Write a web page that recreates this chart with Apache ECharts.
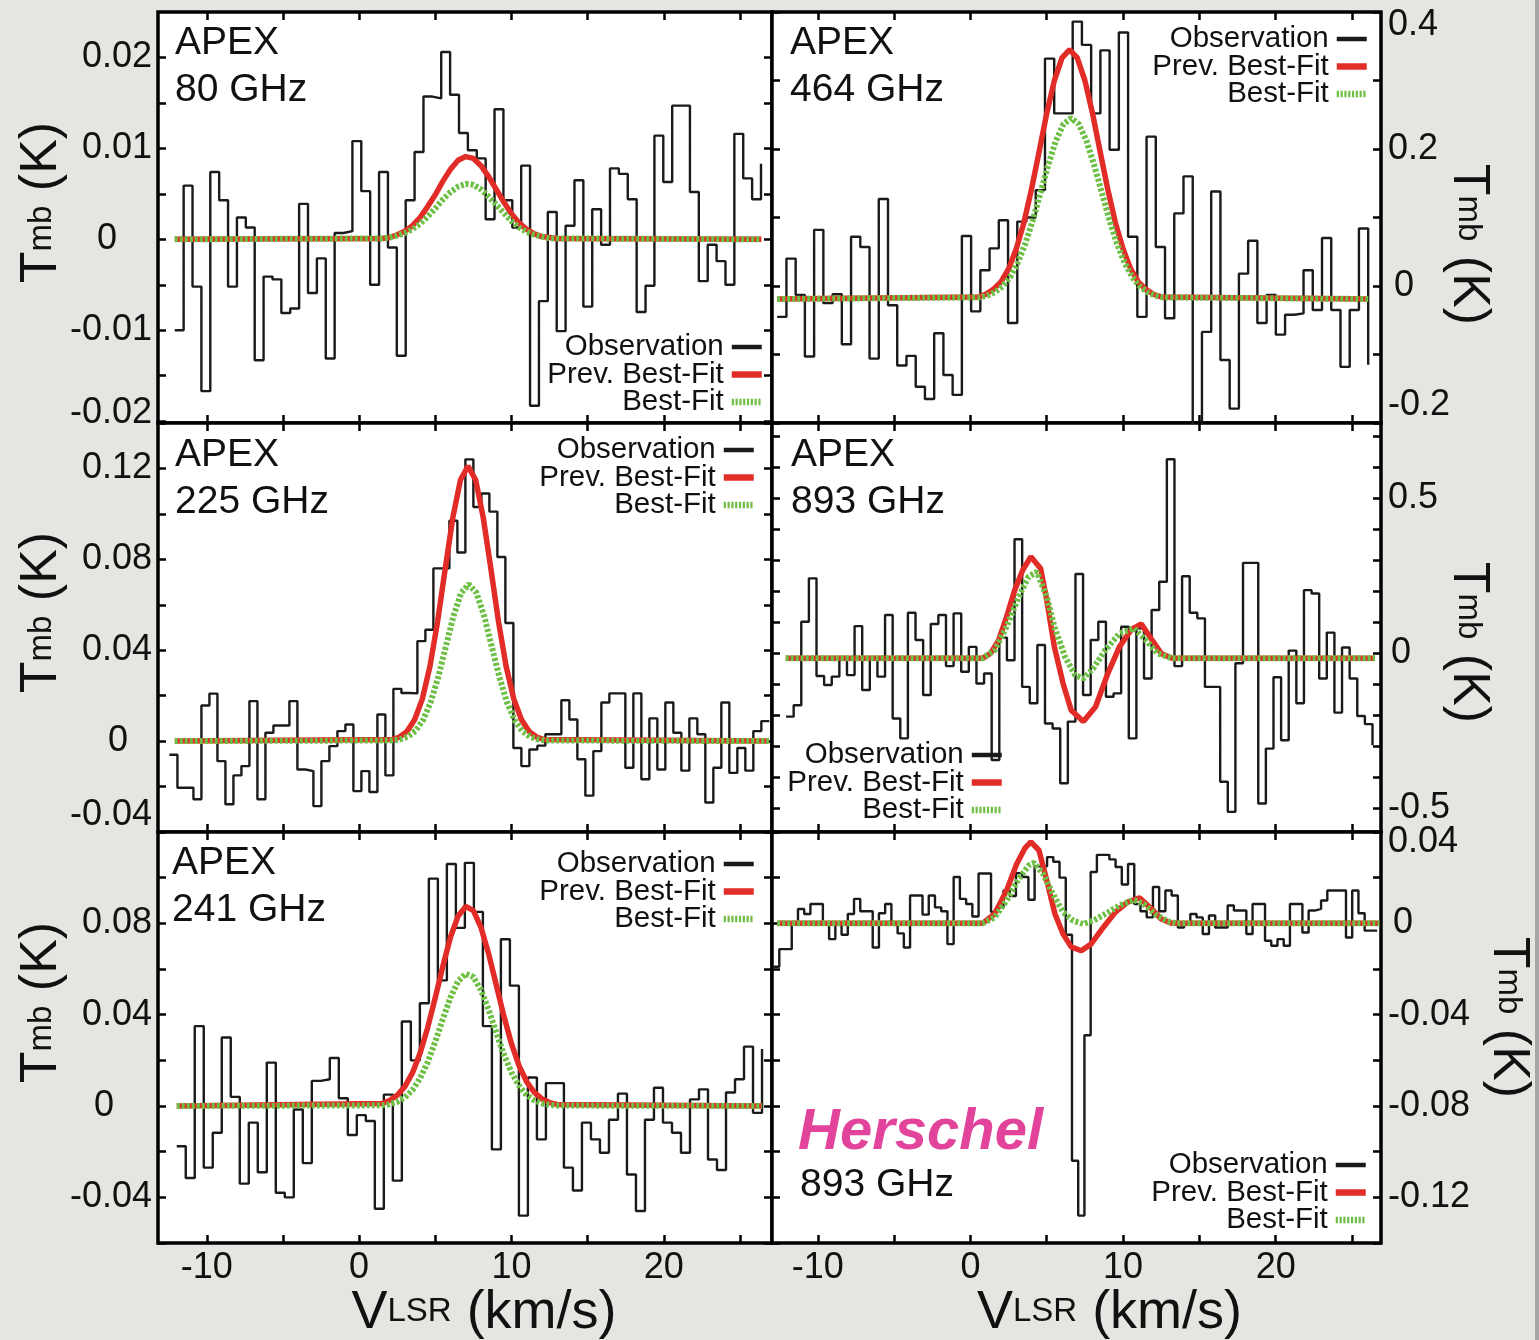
<!DOCTYPE html>
<html>
<head>
<meta charset="utf-8">
<title>Line profiles: APEX and Herschel</title>
<script src="https://cdn.jsdelivr.net/npm/echarts@6/dist/echarts.min.js"></script>
<style>
  html, body { margin: 0; padding: 0; background: #e5e5e1; }
  #chart { width: 1539px; height: 1340px; }
</style>
</head>
<body>
<div id="chart"></div>
<script>
const FONT = '"Liberation Sans", Arial, Helvetica, sans-serif';
const INK = '#111111';
const OBS_COLOR = '#1a1a1a';
const PREV_COLOR = '#e12c27';
const BEST_COLOR = '#6dbf45';

// ---- velocity axis (km/s) ----
const velocityTicks = [-10, -5, 0, 5, 10, 15, 20, 25];
const velocityLabels = [-10, 0, 10, 20];

// ---- APEX 80 GHz ----
const obs80Start = -12.1;
const obs80Step = 0.583;
const obs80 = [
  -0.0100, 0.0059, -0.0052, -0.0167, 0.0074, 0.0043, -0.0052, 0.0024, 0.0013, -0.0133,
  -0.0041, -0.0044, -0.0081, -0.0076, 0.0039, -0.0059, -0.0021, -0.0131, 0.0007, 0.0009,
  0.0108, 0.0053, -0.0050, 0.0074, -0.0009, -0.0128, 0.0043, 0.0096, 0.0157, 0.0155,
  0.0206, 0.0159, 0.0117, 0.0098, 0.0089, 0.0022, 0.0143, 0.0043, 0.0013, 0.0081,
  -0.0183, -0.0068, 0.0030, -0.0101, 0.0015, 0.0065, -0.0074, 0.0033, -0.0006, 0.0078,
  0.0072, 0.0044, -0.0080, -0.0051, 0.0114, 0.0063, 0.0147, 0.0147, 0.0052, -0.0046,
  -0.0006, -0.0024, -0.0050, 0.0116, 0.0067, 0.0044, 0.0083
];
const fit80Vel = [-12.1, 1.5, 2, 2.5, 3, 3.5, 4, 4.5, 5, 5.5, 6, 6.5, 7, 7.5, 8, 8.5, 9, 9.5, 10, 10.5, 11, 11.5, 12, 12.5, 13, 26.4];
const prev80 = [0, 0.0001, 0.0002, 0.0005, 0.0009, 0.0015, 0.0024, 0.0036, 0.0049, 0.0064, 0.0077, 0.0087, 0.0091, 0.0089, 0.0081, 0.0069, 0.0055, 0.0041, 0.0028, 0.0018, 0.0011, 0.0006, 0.0003, 0.0002, 0.0001, 0];
const best80 = [0, 0.0001, 0.0002, 0.0004, 0.0007, 0.0011, 0.0017, 0.0025, 0.0034, 0.0044, 0.0052, 0.0058, 0.0061, 0.0060, 0.0055, 0.0047, 0.0038, 0.0029, 0.0020, 0.0013, 0.0008, 0.0005, 0.0003, 0.0001, 0.0001, 0];
const tmb80Ticks = [-0.02, -0.015, -0.01, -0.005, 0, 0.005, 0.01, 0.015, 0.02];
const tmb80Labels = [-0.02, -0.01, 0, 0.01, 0.02];

// ---- APEX 464 GHz ----
const obs464Start = -12.66;
const obs464Step = 0.605;
const obs464 = [
  -0.045, 0.040, -0.013, -0.103, 0.082, -0.025, -0.012, -0.085, 0.072, 0.057,
  -0.106, 0.127, -0.028, -0.116, -0.102, -0.147, -0.165, -0.069, -0.130, -0.159,
  0.073, -0.037, 0.023, 0.055, 0.096, -0.054, 0.094, 0.100, 0.140, 0.332,
  0.252, 0.252, 0.386, 0.352, 0.252, 0.344, 0.199, 0.370, 0.072, -0.045,
  0.218, 0.057, -0.047, 0.106, 0.160, -0.210, -0.067, 0.138, -0.108, -0.179,
  0.018, 0.066, -0.054, -0.013, -0.071, -0.042, -0.040, 0.023, -0.035, 0.070,
  -0.035, -0.118, -0.035, 0.084, -0.115
];
const prev464Vel = [-12.66, 0.5, 1, 1.5, 2, 2.5, 3, 3.5, 4, 4.5, 5, 5.5, 6, 6.5, 7, 7.5, 8, 8.5, 9, 9.5, 10, 10.5, 11, 11.5, 12, 12.5, 26.06];
const prev464 = [-0.019, -0.016, -0.012, -0.005, 0.006, 0.025, 0.054, 0.092, 0.141, 0.196, 0.252, 0.300, 0.333, 0.345, 0.333, 0.300, 0.252, 0.196, 0.141, 0.092, 0.054, 0.025, 0.006, -0.005, -0.012, -0.016, -0.019];
const best464Vel = [-12.66, 0.6, 1.1, 1.6, 2.1, 2.6, 3.1, 3.6, 4.1, 4.6, 5.1, 5.6, 6.1, 6.6, 7.1, 7.6, 8.1, 8.6, 9.1, 9.6, 10.1, 10.6, 11.1, 11.6, 12.1, 12.6, 26.06];
const best464 = [-0.019, -0.0167, -0.014, -0.0092, -0.0006, 0.013, 0.034, 0.062, 0.097, 0.137, 0.177, 0.212, 0.2365, 0.245, 0.2365, 0.212, 0.177, 0.137, 0.097, 0.062, 0.034, 0.013, -0.0006, -0.0092, -0.014, -0.0167, -0.019];
const tmb464Ticks = [-0.2, -0.1, 0, 0.1, 0.2, 0.3, 0.4];
const tmb464Labels = [-0.2, 0, 0.2, 0.4];

// ---- APEX 225 GHz ----
const obs225Start = -12.45;
const obs225Step = 0.525;
const obs225 = [
  -0.006, -0.0205, -0.0205, -0.0256, 0.0157, 0.0209, -0.0088, -0.0278, -0.0151, -0.011,
  0.0176, -0.0256, 0.0037, 0.0069, 0.0069, 0.0176, -0.0125, -0.0132, -0.0286, -0.0088,
  -0.0022, 0.0044, 0.0073, -0.022, -0.0132, -0.0224, 0.0117, -0.0151, 0.023, 0.0212,
  0.021, 0.044, 0.049, 0.076, 0.076, 0.097, 0.083, 0.124, 0.103, 0.109,
  0.101, 0.081, 0.052, -0.003, -0.011, -0.0037, -0.002, 0.003, 0.003, 0.018,
  0.0095, -0.008, -0.024, -0.0044, 0.017, 0.021, 0.021, -0.0117, 0.021, -0.0168,
  0.010, -0.0125, 0.017, 0.0037, -0.013, 0.010, 0.003, -0.027, -0.0117, 0.017,
  -0.014, -0.003, -0.013, 0.0044, 0.0088, 0.0088
];
const prev225Vel = [-12.1, 2.15, 2.65, 3.15, 3.65, 4.15, 4.65, 5.15, 5.65, 6.15, 6.65, 7.15, 7.65, 8.15, 8.65, 9.15, 9.65, 10.15, 10.65, 11.15, 11.65, 12.15, 26.9];
const prev225 = [0, 0.0007, 0.0018, 0.0043, 0.0095, 0.0186, 0.0329, 0.0526, 0.0758, 0.0983, 0.1149, 0.121, 0.1149, 0.0983, 0.0758, 0.0526, 0.0329, 0.0186, 0.0095, 0.0043, 0.0018, 0.0007, 0];
const best225Vel = [-12.1, 2.2, 2.7, 3.2, 3.7, 4.2, 4.7, 5.2, 5.7, 6.2, 6.7, 7.2, 7.7, 8.2, 8.7, 9.2, 9.7, 10.2, 10.7, 11.2, 11.7, 12.2, 26.9];
const best225 = [0, 0.0003, 0.0008, 0.002, 0.0045, 0.0093, 0.0172, 0.0284, 0.0418, 0.0552, 0.0653, 0.069, 0.0653, 0.0552, 0.0418, 0.0284, 0.0172, 0.0093, 0.0045, 0.002, 0.0008, 0.0003, 0];
const tmb225Ticks = [-0.04, -0.02, 0, 0.02, 0.04, 0.06, 0.08, 0.1, 0.12, 0.14];
const tmb225Labels = [-0.04, 0, 0.04, 0.08, 0.12];

// ---- APEX 893 GHz ----
const obs893aStart = -12.08;
const obs893aStep = 0.499;
const obs893a = [
  -0.205, -0.168, 0.101, 0.241, -0.074, -0.103, -0.076, -0.020, -0.071, 0.087,
  -0.119, -0.020, -0.076, 0.123, -0.211, -0.275, 0.130, 0.042, -0.135, 0.094,
  0.123, -0.042, 0.128, -0.060, 0.020, -0.098, -0.066, -0.345, 0.050, -0.023,
  0.367, -0.109, -0.162, 0.026, -0.227, -0.243, -0.420, -0.221, 0.255, -0.135,
  0.042, 0.101, -0.141, -0.130, 0.085, -0.275, 0.080, -0.082, 0.139, 0.230,
  0.625, -0.042, 0.248, 0.130, 0.112, -0.109, -0.109, -0.415, -0.512, -0.033,
  0.291, 0.291, -0.485, -0.308, -0.078, -0.281, 0.008, -0.162, 0.203, 0.192,
  -0.082, 0.066, -0.192, 0.018, -0.082, -0.203, -0.229, -0.297
];
const prev893aVel = [-12.1, 0.79, 1.32, 1.85, 2.37, 2.9, 3.43, 3.96, 4.6, 5.0, 5.5, 6.07, 6.6, 7.4, 8.2, 9.0, 9.76, 10.55, 11.2, 11.9, 12.5, 13.2, 26.5];
const prev893a = [-0.017, -0.017, -0.001, 0.042, 0.117, 0.203, 0.268, 0.311, 0.273, 0.171, 0.020, -0.098, -0.184, -0.221, -0.173, -0.066, 0.020, 0.076, 0.094, 0.042, -0.001, -0.017, -0.017];
const best893aVel = [-12.1, 0.79, 1.6, 2.37, 3.17, 3.8, 4.35, 5.0, 5.5, 6.2, 6.86, 7.4, 8.05, 8.84, 9.76, 10.7, 11.5, 12.27, 13.2, 26.5];
const best893a = [-0.017, -0.017, 0.010, 0.085, 0.182, 0.246, 0.262, 0.182, 0.085, -0.012, -0.071, -0.082, -0.049, 0.010, 0.063, 0.080, 0.042, -0.001, -0.017, -0.017];
const tmb893aTicks = [-0.5, -0.4, -0.3, -0.2, -0.1, 0, 0.1, 0.2, 0.3, 0.4, 0.5, 0.6, 0.7];
const tmb893aLabels = [-0.5, 0, 0.5];

// ---- APEX 241 GHz ----
const obs241Start = -11.97;
const obs241Step = 0.591;
const obs241 = [
  -0.0176, -0.0315, 0.035, -0.027, -0.0117, 0.030, 0.004, -0.034, -0.0073, -0.029,
  0.019, -0.038, -0.040, -0.0015, -0.025, 0.011, 0.0117, 0.021, 0.0034, -0.0127,
  -0.004, -0.0066, -0.045, 0.005, -0.0327, 0.037, 0.020, 0.045, 0.0996, 0.055,
  0.106, 0.078, 0.1065, 0.085, 0.035, -0.019, 0.073, 0.0527, -0.048, 0.0125,
  -0.0146, 0.010, 0.010, -0.027, -0.037, -0.0073, -0.0146, -0.0205, -0.006, 0.0054,
  -0.030, -0.046, -0.006, 0.008, -0.0073, -0.0117, -0.0205, 0.0029, 0.0073, -0.0234,
  -0.028, 0.0059, 0.0117, 0.026, -0.003, 0.025
];
const fit241Vel = [-11.97, 1.5, 2, 2.5, 3, 3.5, 4, 4.5, 5, 5.5, 6, 6.5, 7, 7.5, 8, 8.5, 9, 9.5, 10, 10.5, 11, 11.5, 12, 12.5, 13, 26.45];
const prev241 = [0, 0.0011, 0.0024, 0.0047, 0.0085, 0.0145, 0.0231, 0.0343, 0.0475, 0.0613, 0.0740, 0.0832, 0.0874, 0.0856, 0.0782, 0.0667, 0.0531, 0.0394, 0.0273, 0.0176, 0.0106, 0.0060, 0.0031, 0.0015, 0.0007, 0];
const best241 = [0, 0.0003, 0.0008, 0.0018, 0.0037, 0.0070, 0.0121, 0.0192, 0.0282, 0.0382, 0.0476, 0.0547, 0.0579, 0.0565, 0.0508, 0.0421, 0.0322, 0.0226, 0.0147, 0.0088, 0.0048, 0.0025, 0.0011, 0.0005, 0.0002, 0];
const tmb241Ticks = [-0.06, -0.04, -0.02, 0, 0.02, 0.04, 0.06, 0.08, 0.1, 0.12];
const tmb241Labels = [-0.04, 0, 0.04, 0.08];

// ---- Herschel 893 GHz ----
const obs893hStart = -12.93;
const obs893hStep = 0.408;
const obs893h = [
  -0.019, -0.0113, -0.0113, 0.0, 0.0063, 0.0041, 0.0085, 0.0085, -0.0003, -0.0069,
  0.0, -0.005, 0.0041, 0.0107, 0.0053, 0.0053, -0.0106, 0.0044, 0.0085, 0.0,
  -0.0044, -0.0106, 0.0122, 0.0122, 0.0038, 0.0122, 0.007, 0.0053, -0.0091, 0.0203,
  0.0107, 0.0085, 0.003, 0.0218, 0.0218, 0.005, 0.007, 0.0144, 0.012, 0.022,
  0.0203, 0.0103, 0.025, 0.025, 0.029, 0.027, 0.020, -0.005, -0.104, -0.128,
  -0.049, 0.0225, 0.030, 0.030, 0.028, 0.0247, 0.017, 0.026, 0.0085, 0.0053,
  0.0026, 0.0159, 0.0053, 0.0144, 0.0122, -0.0018, 0.0, 0.0041, 0.0026, -0.0047,
  0.0034, -0.0018, -0.0018, 0.0078, 0.0056, 0.0056, -0.0047, 0.0085, 0.0085, -0.0076,
  -0.0098, -0.0069, -0.0098, 0.0085, 0.0085, -0.004, 0.0056, 0.0063, 0.010, 0.0144,
  0.0144, 0.0144, -0.0062, 0.0144, 0.0044, -0.0032, -0.0032, -0.0032
];
const prev893hVel = [-12.66, 0.79, 1.58, 2.37, 3.03, 3.56, 3.96, 4.49, 5.0, 5.54, 6.07, 6.6, 7.26, 7.9, 8.7, 9.5, 10.3, 11.08, 11.87, 12.5, 13.2, 26.8];
const prev893h = [0, 0, 0.0041, 0.0144, 0.026, 0.0328, 0.0357, 0.032, 0.0188, 0.0041, -0.0047, -0.0103, -0.012, -0.0091, -0.0018, 0.0049, 0.0093, 0.0112, 0.0063, 0.0019, 0, 0];
const best893hVel = [-12.66, 0.79, 1.58, 2.37, 3.17, 3.83, 4.17, 4.75, 5.4, 6.07, 6.73, 7.39, 8.05, 8.84, 9.76, 10.7, 11.35, 12.14, 12.9, 13.46, 26.8];
const best893h = [0, 0, 0.0026, 0.010, 0.0196, 0.0254, 0.0265, 0.0218, 0.0129, 0.0049, 0.0012, -0.0003, 0.0012, 0.0041, 0.0078, 0.0103, 0.0085, 0.0038, 0.0009, 0, 0];
const tmb893hTicks = [-0.14, -0.12, -0.1, -0.08, -0.06, -0.04, -0.02, 0, 0.02, 0.04];
const tmb893hLabels = [-0.12, -0.08, -0.04, 0, 0.04];

// ---- layout ----
const columns = [
  { left: 158, width: 614, xMin: -13.2, xMax: 27.1, side: 'left' },
  { left: 772, width: 609, xMin: -13.0, xMax: 26.9, side: 'right' }
];
const rows = [
  { top: 12, height: 411 },
  { top: 423, height: 409 },
  { top: 832, height: 411 }
];

const panels = [
  { col: 0, row: 0, obsStart: obs80Start, obsStep: obs80Step, obs: obs80,
    prevVel: fit80Vel, prev: prev80, bestVel: fit80Vel, best: best80,
    yMin: -0.0202, yMax: 0.025, yTicks: tmb80Ticks, yLabels: tmb80Labels,
    nudge: { '0': [-35, 0], '-0.02': [0, -8] }, nameShift: -15, nameGap: 90,
    legend: { right: 774, top: 332 } },
  { col: 1, row: 0, obsStart: obs464Start, obsStep: obs464Step, obs: obs464,
    prevVel: prev464Vel, prev: prev464, bestVel: best464Vel, best: best464,
    yMin: -0.2, yMax: 0.4, yTicks: tmb464Ticks, yLabels: tmb464Labels,
    nudge: { '0': [6, 0], '0.4': [0, 13], '-0.2': [0, -18] }, nameShift: 27, nameGap: 61,
    legend: { right: 169, top: 24 } },
  { col: 0, row: 1, obsStart: obs225Start, obsStep: obs225Step, obs: obs225,
    prevVel: prev225Vel, prev: prev225, bestVel: best225Vel, best: best225,
    yMin: -0.04, yMax: 0.14, yTicks: tmb225Ticks, yLabels: tmb225Labels,
    nudge: { '0': [-24, 0], '-0.04': [0, -17] }, nameShift: -15, nameGap: 90,
    legend: { right: 782, top: 435 } },
  { col: 1, row: 1, obsStart: obs893aStart, obsStep: obs893aStep, obs: obs893a,
    prevVel: prev893aVel, prev: prev893a, bestVel: best893aVel, best: best893a,
    yMin: -0.577, yMax: 0.742, yTicks: tmb893aTicks, yLabels: tmb893aLabels,
    nudge: { '0': [3, 0] }, nameShift: 15, nameGap: 61,
    legend: { right: 534, top: 740 } },
  { col: 0, row: 2, obsStart: obs241Start, obsStep: obs241Step, obs: obs241,
    prevVel: fit241Vel, prev: prev241, bestVel: fit241Vel, best: best241,
    yMin: -0.06, yMax: 0.12, yTicks: tmb241Ticks, yLabels: tmb241Labels,
    nudge: { '0': [-38, 0] }, nameShift: -35, nameGap: 90, xNameShift: 19,
    legend: { right: 782, top: 849 } },
  { col: 1, row: 2, obsStart: obs893hStart, obsStep: obs893hStep, obs: obs893h,
    prevVel: prev893hVel, prev: prev893h, bestVel: best893hVel, best: best893h,
    yMin: -0.14, yMax: 0.04, yTicks: tmb893hTicks, yLabels: tmb893hLabels,
    nudge: { '0': [5, 0], '0.04': [0, 10] }, nameShift: -20, nameGap: 101, xNameShift: 33,
    legend: { right: 170, top: 1150 } }
];

const panelTitles = [
  { text: 'APEX\n80 GHz', left: 175, top: 20 },
  { text: 'APEX\n464 GHz', left: 790, top: 20 },
  { text: 'APEX\n225 GHz', left: 175, top: 432 },
  { text: 'APEX\n893 GHz', left: 791, top: 432 },
  { text: 'APEX\n241 GHz', left: 172, top: 840 },
  { text: '893 GHz', left: 800, top: 1166, single: true }
];

// ---- option assembly ----
const TICK_FONT = 36;
const tickStyle = { show: true, inside: true, length: 8, lineStyle: { color: '#000', width: 2.5 } };
const tmbName = '{t|T}{s|mb}{t| (K)}';
const tmbRich = {
  t: { fontSize: 52, lineHeight: 52, fontFamily: FONT, color: INK },
  s: { fontSize: 33, lineHeight: 33, fontFamily: FONT, color: INK }
};
const vName = '{v|V}{l|LSR}{v| (km/s)}';
const vRich = {
  v: { fontSize: 54, lineHeight: 54, fontFamily: FONT, color: INK },
  l: { fontSize: 33, lineHeight: 33, fontFamily: FONT, color: INK, padding: [0, 0, 3, 0] }
};

function tmbLabel(labels, nudge, side) {
  const rich = {};
  const keyOf = {};
  labels.forEach((v, i) => {
    const n = nudge[String(v)];
    if (!n) return;
    const dx = n[0], dy = n[1];
    rich['n' + i] = {
      fontSize: TICK_FONT, lineHeight: TICK_FONT, fontFamily: FONT, color: INK,
      padding: [Math.max(0, 2 * dy), side === 'left' ? Math.max(0, -dx) : 0,
                Math.max(0, -2 * dy), side === 'right' ? Math.max(0, dx) : 0]
    };
    keyOf[String(v)] = 'n' + i;
  });
  return {
    show: true, customValues: labels, fontSize: TICK_FONT, lineHeight: TICK_FONT, color: INK,
    fontFamily: FONT, margin: side === 'left' ? 6 : 7,
    formatter: function (v) {
      const s = String(v);
      return keyOf[s] ? '{' + keyOf[s] + '|' + s + '}' : s;
    },
    rich: rich
  };
}

const option = {
  backgroundColor: '#e5e5e1',
  animation: false,
  textStyle: { fontFamily: FONT },
  grid: [], xAxis: [], yAxis: [], series: [], legend: [], title: [],
  graphic: [{ type: 'rect', left: 1535, top: 0, shape: { width: 4, height: 1340 }, style: { fill: '#a6a6a4' }, silent: true }]
};

panels.forEach((p, g) => {
  const c = columns[p.col];
  const r = rows[p.row];
  const bottomRow = p.row === 2;
  option.grid.push({
    left: c.left, top: r.top, width: c.width, height: r.height,
    show: true, backgroundColor: '#ffffff', borderColor: '#000', borderWidth: 3.5,
    containLabel: false, outerBoundsMode: 'none'
  });

  const xBase = {
    type: 'value', gridIndex: g, min: c.xMin, max: c.xMax,
    axisLine: { show: false, onZero: false }, splitLine: { show: false },
    axisTick: Object.assign({ customValues: velocityTicks }, tickStyle)
  };
  option.xAxis.push(Object.assign({}, xBase, {
    position: 'bottom',
    axisLabel: { show: bottomRow, customValues: velocityLabels, fontSize: TICK_FONT, lineHeight: TICK_FONT, color: INK, fontFamily: FONT, margin: 7 },
    name: bottomRow ? vName : '', nameLocation: 'middle', nameGap: 43, nameMoveOverlap: false,
    nameTextStyle: { fontSize: 54, color: INK, fontFamily: FONT, rich: vRich, padding: [0, 0, 0, 2 * (p.xNameShift || 0)] }
  }));
  option.xAxis.push(Object.assign({}, xBase, { position: 'top', axisLabel: { show: false } }));

  const yBase = {
    type: 'value', gridIndex: g, min: p.yMin, max: p.yMax,
    axisLine: { show: false, onZero: false }, splitLine: { show: false },
    axisTick: Object.assign({ customValues: p.yTicks }, tickStyle)
  };
  const labelSide = c.side;
  const shift = p.nameShift;
  // along-axis shift of the rotated title, expressed as padding in the text frame
  let namePad;
  if (labelSide === 'left') namePad = shift < 0 ? [0, 0, 0, -2 * shift] : [0, 2 * shift, 0, 0];
  else namePad = shift > 0 ? [0, 0, 0, 2 * shift] : [0, -2 * shift, 0, 0];
  ['left', 'right'].forEach(pos => {
    const main = pos === labelSide;
    option.yAxis.push(Object.assign({}, yBase, {
      position: pos,
      axisLabel: main ? tmbLabel(p.yLabels, p.nudge, pos) : { show: false },
      name: main ? tmbName : '', nameLocation: 'middle', nameGap: p.nameGap, nameMoveOverlap: false,
      nameRotate: pos === 'left' ? 90 : -90,
      nameTextStyle: { fontSize: 52, color: INK, fontFamily: FONT, rich: tmbRich, padding: namePad }
    }));
  });

  const obsData = p.obs.map((t, i) => [+(p.obsStart + i * p.obsStep).toFixed(4), t]);
  option.series.push({
    type: 'line', name: 'Observation', xAxisIndex: 2 * g, yAxisIndex: 2 * g,
    data: obsData, step: 'end', symbol: 'none', silent: true, z: 2,
    lineStyle: { color: OBS_COLOR, width: 2.4 }, itemStyle: { color: OBS_COLOR }
  });
  option.series.push({
    type: 'line', name: 'Prev. Best-Fit', xAxisIndex: 2 * g, yAxisIndex: 2 * g,
    data: p.prevVel.map((v, i) => [v, p.prev[i]]), symbol: 'none', silent: true, z: 3,
    lineStyle: { color: PREV_COLOR, width: 5.5 }, itemStyle: { color: PREV_COLOR }
  });
  option.series.push({
    type: 'line', name: 'Best-Fit', xAxisIndex: 2 * g, yAxisIndex: 2 * g,
    data: p.bestVel.map((v, i) => [v, p.best[i]]), symbol: 'none', silent: true, z: 4,
    lineStyle: { color: BEST_COLOR, width: 6, type: [3, 2], cap: 'butt' }, itemStyle: { color: BEST_COLOR }
  });

  option.legend.push({
    orient: 'vertical', align: 'right', right: p.legend.right, top: p.legend.top,
    padding: 0, itemGap: -2.5, itemWidth: 30, itemHeight: 14, selectedMode: false,
    itemStyle: { opacity: 0 },
    textStyle: { fontSize: 29.5, lineHeight: 28, color: INK, fontFamily: FONT, padding: [0, 3, 0, 0] },
    data: [
      { name: 'Observation', lineStyle: { width: 4.5, opacity: 1 } },
      { name: 'Prev. Best-Fit', lineStyle: { width: 6.5, opacity: 1 } },
      { name: 'Best-Fit', lineStyle: { width: 6.5, type: [2.2, 1.6], opacity: 1 } }
    ]
  });
});

panelTitles.forEach(t => {
  option.title.push({
    text: t.text, left: t.left, top: t.top, padding: 0,
    textStyle: { fontSize: 39, lineHeight: t.single ? 39 : 47, fontWeight: 'normal', color: INK, fontFamily: FONT }
  });
});
option.title.push({
  text: 'Herschel', left: 798, top: 1104, padding: 0,
  textStyle: { fontSize: 58, lineHeight: 58, fontWeight: 'bold', fontStyle: 'italic', color: '#e2449c', fontFamily: FONT }
});

const chart = echarts.init(document.getElementById('chart'), null, { renderer: 'canvas' });
chart.setOption(option);
</script>
</body>
</html>
